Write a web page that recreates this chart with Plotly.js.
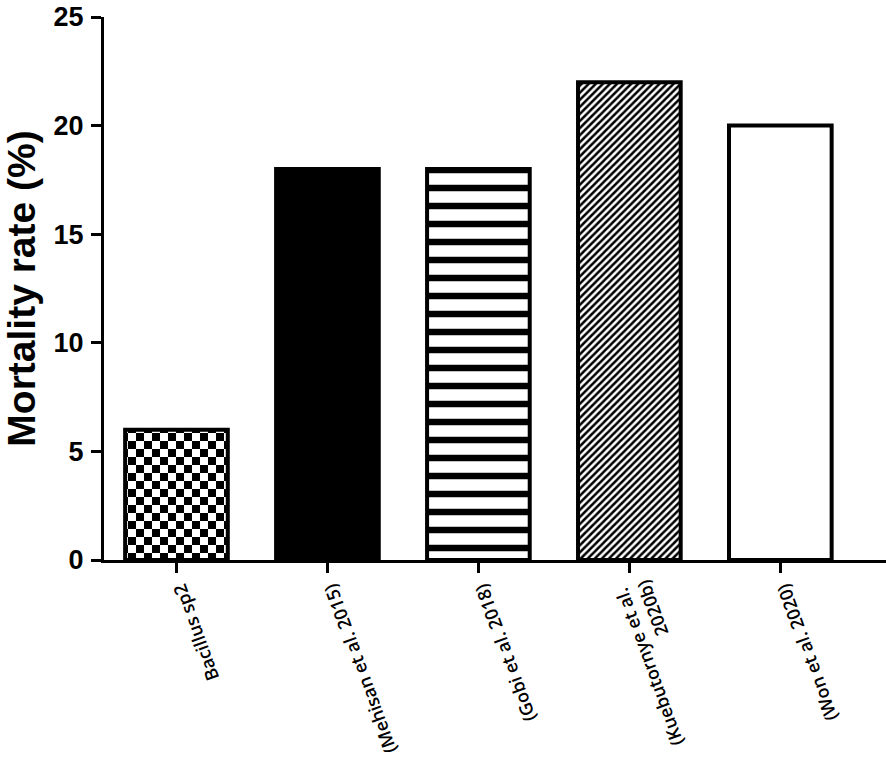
<!DOCTYPE html>
<html>
<head>
<meta charset="utf-8">
<script src="https://cdn.plot.ly/plotly-3.0.1.min.js"></script>
<style>html,body{margin:0;padding:0;background:#fff;}</style>
</head>
<body>
<div id="chart" style="width:886px;height:763px"></div>
<script>
// ---- data ----
const categories = ['Bacillus sp2', '(Mehisan et al. 2015)', '(Gobi et al. 2018)', '(Kuebutornye et al.<br>2020b)', '(Won et al. 2020)'];
const mortality = [6, 18, 18, 22, 20];
const yTickVals = [0, 5, 10, 15, 20, 25];
const yTitle = 'Mortality rate (%)';

// ---- styles ----
const barColor = ['black', 'black', 'black', 'black', 'white'];
const patBg = ['white', 'white', 'white', 'white', 'white'];
const patShape = ['', '', '-', '/', ''];
const patSize = [16, 8, 18, 5, 8];
const patSolid = [0.5, 0.3, 0.36, 0.5, 0.3];
const checkerPath = 'M0,0H8V8H0Z M8,8H16V16H8Z';

const outline = {color: 'black', width: 4};

// first bar: checkerboard via custom pattern path
const traceChecker = {
  type: 'bar',
  x: categories.slice(0, 1),
  y: mortality.slice(0, 1),
  marker: {
    color: barColor[0],
    line: outline,
    pattern: {path: checkerPath, size: patSize[0], bgcolor: patBg[0], fgopacity: 1, fillmode: 'replace'}
  },
  hoverinfo: 'none'
};

// other bars
const traceRest = {
  type: 'bar',
  x: categories.slice(1),
  y: mortality.slice(1),
  marker: {
    color: barColor.slice(1),
    line: outline,
    pattern: {shape: patShape.slice(1), size: patSize.slice(1), solidity: patSolid.slice(1), bgcolor: patBg.slice(1), fgopacity: 1, fillmode: 'replace'}
  },
  hoverinfo: 'none'
};

const layout = {
  width: 886, height: 763,
  margin: {l: 104, r: 0, t: 17, b: 203, pad: 0},
  paper_bgcolor: 'white', plot_bgcolor: 'white',
  showlegend: false,
  barmode: 'overlay',
  bargap: 0.32,
  xaxis: {
    type: 'category',
    categoryorder: 'array',
    categoryarray: categories,
    range: [-0.48, 4.7],
    showline: true, linecolor: 'black', linewidth: 3,
    ticks: 'outside', ticklen: 10, tickwidth: 3, tickcolor: 'black',
    tickangle: -110,
    tickfont: {family: 'Open Sans, sans-serif', size: 18, color: 'black', weight: 600},
    showgrid: false, zeroline: false, fixedrange: true
  },
  yaxis: {
    range: [0, 25],
    tickvals: yTickVals,
    showline: true, linecolor: 'black', linewidth: 3,
    ticks: 'outside', ticklen: 10, tickwidth: 3, tickcolor: 'black',
    tickfont: {family: 'Liberation Sans, Arial, sans-serif', size: 27, color: 'black', weight: 'bold'},
    ticklabelstandoff: 2,
    title: {text: yTitle, font: {family: 'Liberation Sans, Arial, sans-serif', size: 39, color: 'black', weight: 'bold'}, standoff: 8},
    showgrid: false, zeroline: false, fixedrange: true
  }
};

Plotly.newPlot('chart', [traceChecker, traceRest], layout, {staticPlot: true, displayModeBar: false});
</script>
</body>
</html>
